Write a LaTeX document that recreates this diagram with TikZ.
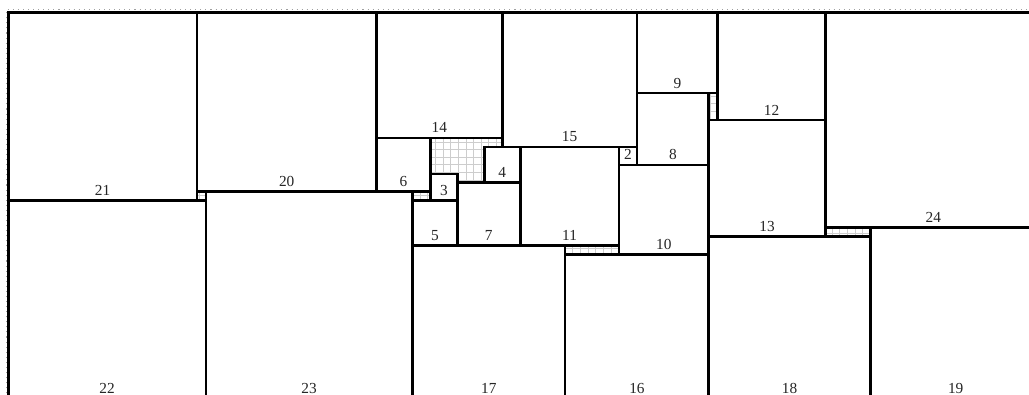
\documentclass[tikz,border=0pt]{standalone}
\usepackage{fontspec}
\setmainfont{Liberation Serif}
\definecolor{gGrid}{HTML}{CDCDCD}
\definecolor{gDot}{HTML}{A0A0A0}

\begin{document}
\begin{tikzpicture}[
  x=6.735pt, y=-6.735pt,
  every node/.style={font=\fontsize{11.5}{13}\selectfont},
  sq/.style={draw=black, fill=white, line width=2pt},
  num/.style={anchor=base, inner sep=0pt, text=black!85},
  gapgrid/.style={draw=gGrid, line width=0.5pt, step=5.72pt},
]
  % visible window (the packing runs on past the right and bottom edges)
  \useasboundingbox (-0.924,-1.359) rectangle (113.66,42.52);
  \fill[white] (-0.924,-1.359) rectangle (113.66,42.52);
  \clip (-0.924,-1.359) rectangle (113.66,42.52);

  % holes in the packing show the grid underneath
  \draw[gapgrid] (0,43) grid (115,0);

  % dotted frame, top and left
  \draw[gDot, line width=0.8pt, dash pattern=on 0.8pt off 3pt]
    (-0.25,43) -- (-0.25,-0.25) -- (115,-0.25);

  % squares: size/left/top
  \foreach \s/\x/\y in {21/0/0, 20/21/0, 14/41/0, 15/55/0, 9/70/0, 12/79/0,
      24/91/0, 6/41/14, 4/53/15, 2/68/15, 8/70/9, 13/78/12, 11/57/15,
      10/68/17, 3/47/18, 7/50/19, 23/22/20, 22/0/21, 5/45/21, 17/45/26,
      16/62/27, 18/78/25, 19/96/24} {
    \draw[sq] (\x,\y) rectangle ++(\s,\s);
    \node[num] (n\s) at (\x+\s/2, \y+\s-0.55) {\s};
  }
\end{tikzpicture}
\end{document}
